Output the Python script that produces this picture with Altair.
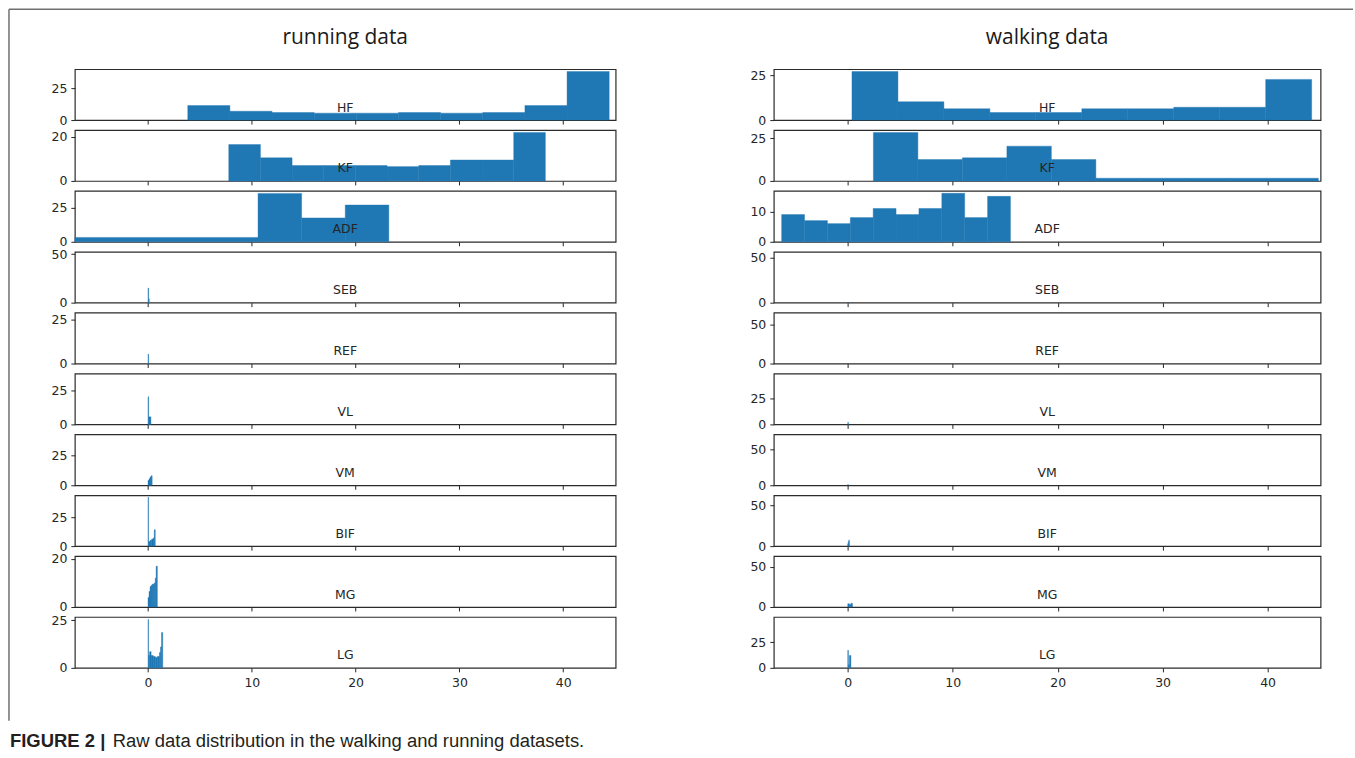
import altair as alt
import pandas as pd

# ---------------------------------------------------------------------------
# Histogram data: bin edges and bin counts for every signal, per dataset.
# ---------------------------------------------------------------------------
MUSCLES = ["HF", "KF", "ADF", "SEB", "REF", "VL", "VM", "BIF", "MG", "LG"]
X_TICKS = [0, 10, 20, 30, 40]
X_DOMAIN = [-7.05, 45.05]


def even_edges(start, width, n):
    """Edges of n equal-width bins beginning at `start`."""
    return [round(start + i * width, 4) for i in range(n + 1)]


# running dataset
run_HF_edges = even_edges(3.83, 4.06, 10)
run_HF_counts = [11.5, 7, 6, 5.5, 5.5, 6, 5.5, 6, 11.5, 38.5]
run_KF_edges = even_edges(7.78, 3.05, 10)
run_KF_counts = [16.5, 10.5, 7, 7, 7, 6.5, 7, 9.5, 9.5, 22]
run_ADF_edges = [-7.05, 10.6, 14.8, 19.0, 23.2]
run_ADF_counts = [3.2, 35.3, 17.4, 26.8]
run_SEB_edges = [0.0, 0.06, 0.12]
run_SEB_counts = [15, 4]
run_REF_edges = [0.0, 0.06]
run_REF_counts = [5.3]
run_VL_edges = [0.0, 0.06, 0.28]
run_VL_counts = [20.5, 5.6]
run_VM_edges = [0.0, 0.1, 0.2, 0.3, 0.4]
run_VM_counts = [4, 5.5, 7, 8]
run_BIF_edges = [0.0, 0.05, 0.2, 0.35, 0.5, 0.6, 0.7]
run_BIF_counts = [42, 4, 5, 6, 7, 14]
run_MG_edges = [0.0, 0.1, 0.2, 0.3, 0.4, 0.5, 0.6, 0.7, 0.78, 0.9]
run_MG_counts = [4, 6.5, 8.5, 9, 9.5, 9.5, 10, 12, 17]
run_LG_edges = [0.0, 0.05, 0.15, 0.3, 0.5, 0.7, 0.9, 1.1, 1.2, 1.3, 1.42]
run_LG_counts = [25.4, 6.5, 8.5, 6.5, 6, 5.5, 6, 8, 11, 18.5]

# walking dataset
walk_HF_edges = even_edges(0.4, 4.38, 10)
walk_HF_counts = [27, 10.2, 6.3, 4.2, 4.2, 6.3, 6.3, 7.1, 7.1, 22.6]
walk_KF_edges = even_edges(2.44, 4.24, 10)
walk_KF_counts = [28.5, 12.6, 13.6, 20.5, 12.6, 1.6, 1.6, 1.6, 1.6, 1.6]
walk_ADF_edges = even_edges(-6.3, 2.18, 10)
walk_ADF_counts = [9, 7, 6, 8, 11, 9, 11, 16, 8, 15]
walk_SEB_edges = [0.0, 0.04]
walk_SEB_counts = [0.5]
walk_REF_edges = [0.0, 0.04]
walk_REF_counts = [0.5]
walk_VL_edges = [0.0, 0.06]
walk_VL_counts = [2]
walk_VM_edges = [0.0, 0.05]
walk_VM_counts = [1]
walk_BIF_edges = [0.0, 0.05, 0.1, 0.15]
walk_BIF_counts = [3, 5.5, 7.5]
walk_MG_edges = [0.0, 0.15, 0.3, 0.45]
walk_MG_counts = [4, 3, 4.5]
walk_LG_edges = [0.0, 0.06, 0.15, 0.3]
walk_LG_counts = [17, 3, 12]

# upper y limit of each panel (the tallest bin plus 5 % headroom;
# very narrow tallest bins near zero are too thin to be drawn)
run_ylim = [40.4, 23.1, 37.1, 52.5, 29.1, 37.8, 42.8, 43.7, 21.2, 26.7]
walk_ylim = [28.3, 30.0, 16.8, 56.7, 65.0, 49.4, 71.4, 62.0, 63.0, 49.4]

# y-axis tick labels of each panel
run_yticks = [[0, 25], [0, 20], [0, 25], [0, 50], [0, 25],
              [0, 25], [0, 25], [0, 25], [0, 20], [0, 25]]
walk_yticks = [[0, 25], [0, 25], [0, 10], [0, 50], [0, 50],
               [0, 25], [0, 50], [0, 50], [0, 50], [0, 25]]

running = {
    "HF": (run_HF_edges, run_HF_counts), "KF": (run_KF_edges, run_KF_counts),
    "ADF": (run_ADF_edges, run_ADF_counts), "SEB": (run_SEB_edges, run_SEB_counts),
    "REF": (run_REF_edges, run_REF_counts), "VL": (run_VL_edges, run_VL_counts),
    "VM": (run_VM_edges, run_VM_counts), "BIF": (run_BIF_edges, run_BIF_counts),
    "MG": (run_MG_edges, run_MG_counts), "LG": (run_LG_edges, run_LG_counts),
}
walking = {
    "HF": (walk_HF_edges, walk_HF_counts), "KF": (walk_KF_edges, walk_KF_counts),
    "ADF": (walk_ADF_edges, walk_ADF_counts), "SEB": (walk_SEB_edges, walk_SEB_counts),
    "REF": (walk_REF_edges, walk_REF_counts), "VL": (walk_VL_edges, walk_VL_counts),
    "VM": (walk_VM_edges, walk_VM_counts), "BIF": (walk_BIF_edges, walk_BIF_counts),
    "MG": (walk_MG_edges, walk_MG_counts), "LG": (walk_LG_edges, walk_LG_counts),
}

# ---------------------------------------------------------------------------
# Styling
# ---------------------------------------------------------------------------
BLUE = "#1f77b4"
INK = "#262626"
TICK_FONT = "DejaVu Sans"
PANEL_H = 51
LEFT_W = 542
RIGHT_W = 548


def panel(name, edges, counts, ytop, yticks, width, bottom, title=None, extra=None):
    df = pd.DataFrame({
        "lo": edges[:-1],
        "hi": edges[1:],
        "n": counts,
        "base": [0.0] * len(counts),
    })
    x_axis = alt.Axis(
        values=X_TICKS, labels=bottom, domain=False, grid=False, title=None,
        tickSize=4, tickColor=INK, tickWidth=1, labelFont=TICK_FONT,
        labelFontSize=12.5, labelColor=INK, labelPadding=5,
    )
    y_axis = alt.Axis(
        values=yticks, domain=False, grid=False, title=None,
        tickSize=4, tickColor=INK, tickWidth=1, labelFont=TICK_FONT,
        labelFontSize=12.5, labelColor=INK, labelPadding=4,
    )
    # a hairline stroke in the fill colour closes the seams between adjacent bins
    bars = alt.Chart(df).mark_rect(color=BLUE, stroke=BLUE, strokeWidth=0.4).encode(
        x=alt.X("lo:Q", scale=alt.Scale(domain=X_DOMAIN, nice=False, zero=False), axis=x_axis),
        x2=alt.X2("hi"),
        y=alt.Y("n:Q", scale=alt.Scale(domain=[0, ytop], nice=False, zero=True), axis=y_axis),
        y2=alt.Y2("base"),
    )
    label = alt.Chart(pd.DataFrame({"m": [name]})).mark_text(
        font=TICK_FONT, fontSize=12.5, color=INK, baseline="middle", align="center",
    ).encode(text="m:N", x=alt.value(width / 2), y=alt.value(38.5))
    layers = [bars, label] + (extra or [])
    props = dict(width=width, height=PANEL_H)
    if title is not None:
        props["title"] = alt.TitleParams(
            title, font="Open Sans", fontSize=21, fontWeight="normal",
            color="#1a1a1a", anchor="middle", offset=21,
        )
    return alt.layer(*layers).properties(**props)


# Page frame and figure caption, positioned from the bottom-left panel's corner
# (that panel's top sits 549 px below the first row).
one = pd.DataFrame({"k": [0]})
frame_left = alt.Chart(one).mark_rule(color="#707070", strokeWidth=1.5).encode(
    x=alt.value(-66), y=alt.value(-609), y2=alt.value(104)
)
frame_top = alt.Chart(one).mark_rule(color="#707070", strokeWidth=1.5).encode(
    x=alt.value(-66), x2=alt.value(1281), y=alt.value(-609)
)
caption_head = alt.Chart(one).mark_text(
    font="Liberation Sans", fontSize=18.5, fontWeight="bold", color="#231f20",
    align="left", baseline="alphabetic",
).encode(text=alt.value("FIGURE 2 |"), x=alt.value(-65), y=alt.value(130))
caption_body = alt.Chart(one).mark_text(
    font="Liberation Sans", fontSize=18.5, color="#231f20",
    align="left", baseline="alphabetic",
).encode(
    text=alt.value("Raw data distribution in the walking and running datasets."),
    x=alt.value(38), y=alt.value(130),
)

cells = []
for i, m in enumerate(MUSCLES):
    last = i == len(MUSCLES) - 1
    e, c = running[m]
    cells.append(panel(
        m, e, c, run_ylim[i], run_yticks[i], LEFT_W, last,
        title="running data" if i == 0 else None,
        extra=[frame_left, frame_top, caption_head, caption_body] if last else None,
    ))
    e, c = walking[m]
    cells.append(panel(
        m, e, c, walk_ylim[i], walk_yticks[i], RIGHT_W, last,
        title="walking data" if i == 0 else None,
    ))

chart = (
    alt.concat(*cells, columns=2, spacing={"row": 10, "column": 158.5},
               bounds="flush", align="each")
    .properties(padding={"left": 7, "top": 6.5, "right": 0, "bottom": 0},
                background="white")
    .configure_view(stroke="#2b2b2b", strokeWidth=1.2)
)

chart.save("out.html", embed_options={"renderer": "svg", "actions": False})
